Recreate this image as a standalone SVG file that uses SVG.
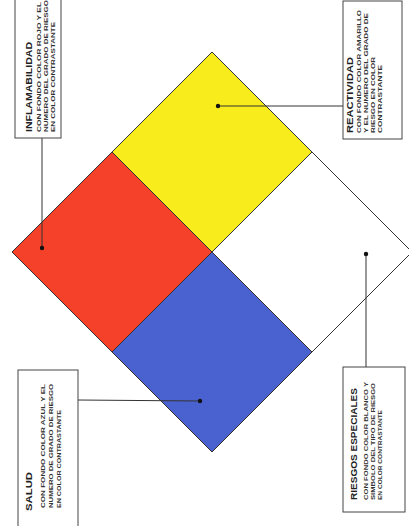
<svg xmlns="http://www.w3.org/2000/svg" width="409" height="526" viewBox="0 0 409 526">
<style>
.box{fill:#fff;stroke:#444;stroke-width:1}
.q{stroke:#333;stroke-width:1}
.t{font-family:"Liberation Sans",Arial,sans-serif;font-weight:bold;font-size:9px;fill:#222}
.s{font-family:"Liberation Sans",Arial,sans-serif;font-weight:bold;font-size:5.5px;fill:#333}
.lead{stroke:#333;stroke-width:1;fill:none}
</style>
<defs>
<marker id="dot" markerWidth="6" markerHeight="6" refX="3" refY="3" markerUnits="userSpaceOnUse"><circle cx="3" cy="3" r="2.2" fill="#111"/></marker>
</defs>
<rect width="409" height="526" fill="#fff"/>
<g id="diamond">
<polygon id="q-rojo" class="q" fill="#f5412a" points="12,252 112,152 212,252 112,352"/>
<polygon id="q-amarillo" class="q" fill="#f8ec1c" points="112,152 212,52 312,152 212,252"/>
<polygon id="q-blanco" class="q" fill="#ffffff" stroke="#777" points="212,252 312,152 412,252 312,352"/>
<polygon id="q-azul" class="q" fill="#4a62d0" points="112,352 212,252 312,352 212,452"/>
</g>
<g id="connectors">
<line class="lead" x1="42" y1="138" x2="42" y2="248" marker-end="url(#dot)"/>
<line class="lead" x1="343" y1="106" x2="218" y2="106" marker-end="url(#dot)"/>
<line class="lead" x1="78" y1="400" x2="200" y2="401" marker-end="url(#dot)"/>
<line class="lead" x1="366" y1="367" x2="366" y2="254" marker-end="url(#dot)"/>
</g>
<g id="inflamabilidad">
<rect class="box" x="15" y="-2" width="46" height="140"/>
<text class="t" transform="translate(32,132) rotate(-90)" textLength="90" lengthAdjust="spacingAndGlyphs">INFLAMABILIDAD</text>
<text class="s" transform="translate(41,132) rotate(-90)" textLength="130" lengthAdjust="spacingAndGlyphs">CON FONDO COLOR ROJO Y EL</text>
<text class="s" transform="translate(48,132) rotate(-90)" textLength="132" lengthAdjust="spacingAndGlyphs">NUMERO DEL GRADO DE RIESGO</text>
<text class="s" transform="translate(55,132) rotate(-90)" textLength="110" lengthAdjust="spacingAndGlyphs">EN COLOR CONTRASTANTE</text>
</g>
<g id="reactividad">
<rect class="box" x="343" y="1" width="59" height="138"/>
<text class="t" transform="translate(353,133) rotate(-90)" textLength="76" lengthAdjust="spacingAndGlyphs">REACTIVIDAD</text>
<text class="s" transform="translate(361,133) rotate(-90)" textLength="123" lengthAdjust="spacingAndGlyphs">CON FONDO COLOR AMARILLO</text>
<text class="s" transform="translate(368,133) rotate(-90)" textLength="120" lengthAdjust="spacingAndGlyphs">Y EL NUMERO DEL GRADO DE</text>
<text class="s" transform="translate(375,133) rotate(-90)" textLength="76" lengthAdjust="spacingAndGlyphs">RIESGO EN COLOR</text>
<text class="s" transform="translate(382,133) rotate(-90)" textLength="68" lengthAdjust="spacingAndGlyphs">CONTRASTANTE</text>
</g>
<g id="salud">
<rect class="box" x="18" y="370" width="60" height="160"/>
<text class="t" transform="translate(32,511) rotate(-90)" textLength="39" lengthAdjust="spacingAndGlyphs">SALUD</text>
<text class="s" transform="translate(45,508) rotate(-90)" textLength="124" lengthAdjust="spacingAndGlyphs">CON FONDO COLOR AZUL Y EL</text>
<text class="s" transform="translate(53,508) rotate(-90)" textLength="124" lengthAdjust="spacingAndGlyphs">NUMERO DE GRADO DE RIESGO</text>
<text class="s" transform="translate(61,508) rotate(-90)" textLength="98" lengthAdjust="spacingAndGlyphs">EN COLOR CONTRASTANTE</text>
</g>
<g id="riesgos-especiales">
<rect class="box" x="343" y="367" width="62" height="145"/>
<text class="t" transform="translate(357,500) rotate(-90)" textLength="112" lengthAdjust="spacingAndGlyphs">RIESGOS ESPECIALES</text>
<text class="s" transform="translate(368,500) rotate(-90)" textLength="118" lengthAdjust="spacingAndGlyphs">CON FONDO COLOR BLANCO Y</text>
<text class="s" transform="translate(375,500) rotate(-90)" textLength="117" lengthAdjust="spacingAndGlyphs">SIMBOLO DEL TIPO DE RIESGO</text>
<text class="s" transform="translate(382,500) rotate(-90)" textLength="90" lengthAdjust="spacingAndGlyphs">EN COLOR CONTRASTANTE</text>
</g>
</svg>
